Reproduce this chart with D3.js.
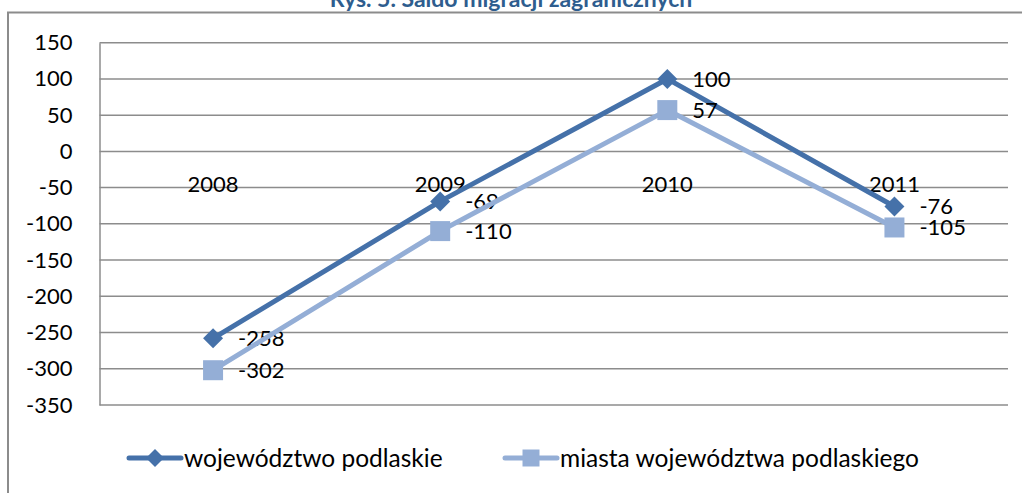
<!DOCTYPE html>
<html>
<head>
<meta charset="utf-8">
<script src="https://cdn.jsdelivr.net/npm/d3@7"></script>
<style>
  body { margin: 0; background: #fff; overflow: hidden; }
  svg text { font-family: Lato, "Open Sans", sans-serif; fill: #000; }
</style>
</head>
<body>
<script>
var years = ["2008", "2009", "2010", "2011"];
var wojewodztwo = [-258, -69, 100, -76];
var miasta = [-302, -110, 57, -105];
var yTicks = [150, 100, 50, 0, -50, -100, -150, -200, -250, -300, -350];
var seriesNames = ["województwo podlaskie", "miasta województwa podlaskiego"];
var title = "Rys. 5. Saldo migracji zagranicznych";

var W = 1022, H = 493;
var margin = {top: 42.7, right: 14, bottom: 88, left: 99.5};
var width = W - margin.left - margin.right,
	height = H - margin.top - margin.bottom;

var dark = "#4571a9", light = "#94aed6", grid = "#8c8c8c";

var svg = d3.select("body").append("svg")
	.attr("width", W)
	.attr("height", H);

// outer chart frame (runs off the right and bottom)
svg.append("rect")
	.attr("x", 8).attr("y", 12.5)
	.attr("width", W + 20).attr("height", H + 20)
	.attr("fill", "none")
	.attr("stroke", grid)
	.attr("stroke-width", 2);

svg.append("text")
	.attr("x", W / 2)
	.attr("y", 7)
	.attr("text-anchor", "middle")
	.style("font-weight", "bold")
	.style("font-size", "23px")
	.style("fill", "#2e5d8e")
	.text(title);

var g = svg.append("g")
	.attr("transform", "translate(" + margin.left + "," + margin.top + ")");

var x = d3.scaleBand().domain(years).range([0, width]);
var y = d3.scaleLinear().domain([-350, 150]).range([height, 0]);

// gridlines
g.append("g")
	.selectAll("line")
	.data(yTicks)
	.enter().append("line")
	.attr("x1", 0).attr("x2", width)
	.attr("y1", function (d) { return y(d); })
	.attr("y2", function (d) { return y(d); })
	.attr("stroke", grid)
	.attr("stroke-width", 1.5);

// y axis
var yAxis = g.append("g")
	.call(d3.axisLeft(y)
		.tickValues(yTicks)
		.tickSize(0)
		.tickPadding(27)
		.tickFormat(function (d) { return String(d); }));
yAxis.select(".domain").attr("stroke", grid).attr("stroke-width", 1.5);
yAxis.selectAll("text")
	.style("font-size", "22px")
	.style("font-family", "Lato, sans-serif");

// category labels sit below the zero line
g.append("g")
	.selectAll("text")
	.data(years)
	.enter().append("text")
	.attr("x", function (d) { return x(d) + x.bandwidth() / 2; })
	.attr("y", y(0) + 41)
	.attr("text-anchor", "middle")
	.style("font-size", "22px")
	.text(function (d) { return d; });

var line = d3.line()
	.x(function (d, i) { return x(years[i]) + x.bandwidth() / 2; })
	.y(function (d) { return y(d); });

function drawSeries(values, color, marker) {
	g.append("path")
		.datum(values)
		.attr("fill", "none")
		.attr("stroke", color)
		.attr("stroke-width", 5)
		.attr("stroke-linejoin", "round")
		.attr("d", line);

	g.append("g")
		.selectAll("path")
		.data(values)
		.enter().append("path")
		.attr("transform", function (d, i) {
			return "translate(" + (x(years[i]) + x.bandwidth() / 2) + "," + y(d) + ")";
		})
		.attr("d", marker)
		.attr("fill", color);

	g.append("g")
		.selectAll("text")
		.data(values)
		.enter().append("text")
		.attr("x", function (d, i) { return x(years[i]) + x.bandwidth() / 2 + 25; })
		.attr("y", function (d) { return y(d) + 8; })
		.style("font-size", "22px")
		.text(function (d) { return d; });
}

var diamond = "M0,-10L10,0L0,10L-10,0Z";
var square = "M-10,-10H10V10H-10Z";

drawSeries(wojewodztwo, dark, diamond);
drawSeries(miasta, light, square);

// legend
var legend = svg.append("g");
var legendItems = [
	{x: 127, color: dark, marker: "M0,-9L9,0L0,9L-9,0Z"},
	{x: 503, color: light, marker: "M-8.5,-8.5H8.5V8.5H-8.5Z"}
];
legendItems.forEach(function (item, i) {
	var lg = legend.append("g").attr("transform", "translate(" + item.x + ",458)");
	lg.append("line")
		.attr("x1", 2).attr("x2", 54)
		.attr("stroke", item.color)
		.attr("stroke-width", 5)
		.attr("stroke-linecap", "round");
	lg.append("path")
		.attr("transform", "translate(28,0)")
		.attr("d", item.marker)
		.attr("fill", item.color);
	lg.append("text")
		.attr("x", 57)
		.attr("y", 8.5)
		.style("font-size", "24.5px")
		.text(seriesNames[i]);
});
</script>
</body>
</html>
